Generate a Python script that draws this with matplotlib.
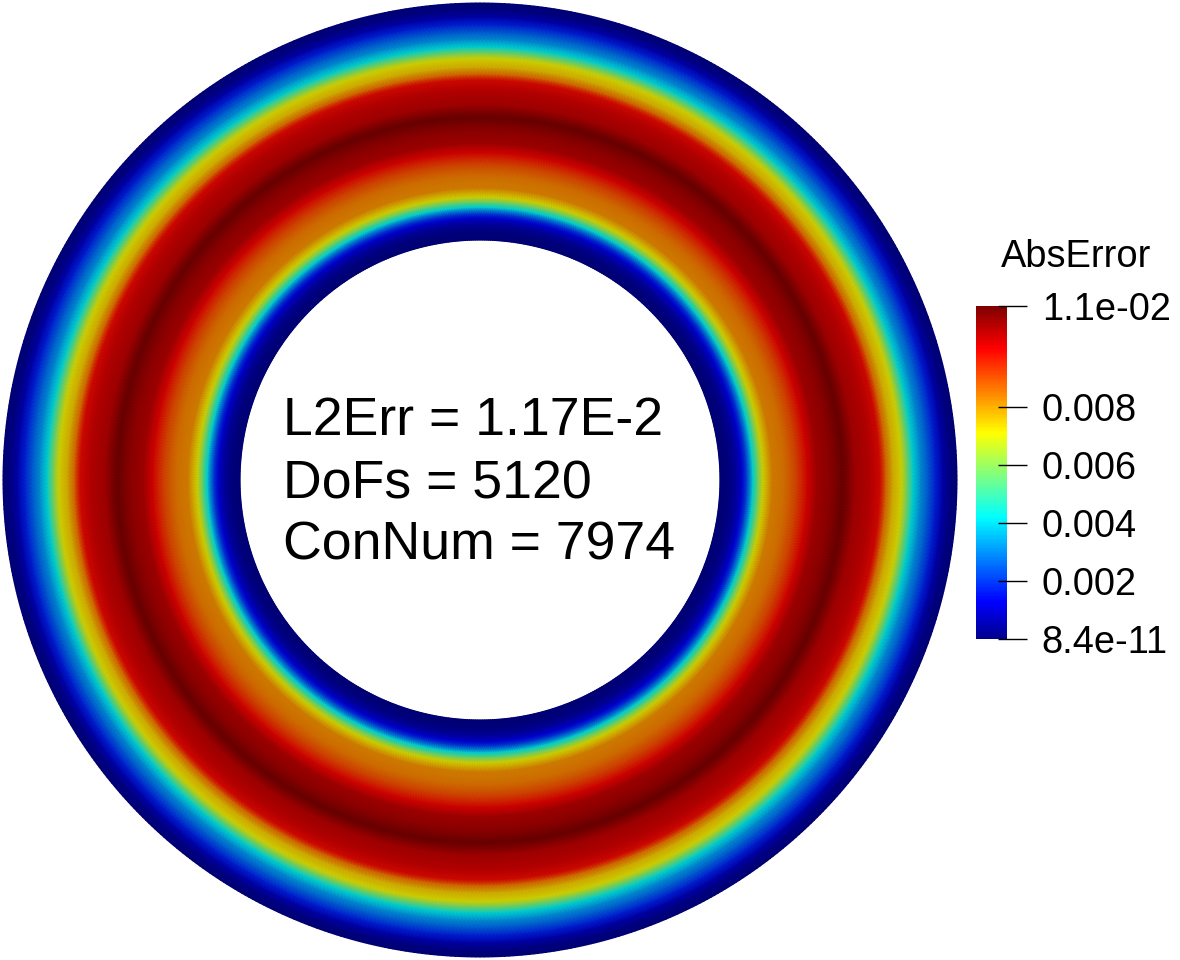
import numpy as np
import matplotlib
matplotlib.use('Agg')
import matplotlib.pyplot as plt
from matplotlib.colors import LinearSegmentedColormap, Normalize
from matplotlib.cm import ScalarMappable

# radial profile of the error field (radius scaled so the outer wall is 1)
radius = [0.503, 0.518, 0.535, 0.549, 0.560, 0.572, 0.583, 0.593, 0.612, 0.639,
          0.665, 0.686, 0.706, 0.734, 0.761, 0.786, 0.818, 0.839, 0.851, 0.866,
          0.883, 0.895, 0.908, 0.924, 0.940, 0.956, 0.971, 0.985, 1.000]
abs_error = [0.0, 0.0001, 0.0005, 0.0013, 0.0023, 0.0042, 0.0058, 0.0071, 0.0083, 0.0085,
             0.0092, 0.0100, 0.0107, 0.0110, 0.0115, 0.0107, 0.0104, 0.0099, 0.0086, 0.0076,
             0.0071, 0.0058, 0.0042, 0.0032, 0.0025, 0.0017, 0.0007, 0.0002, 0.0]

vmin = 8.4e-11
vmax = 0.0115
tick_values = [vmax, 0.008, 0.006, 0.004, 0.002, vmin]
tick_labels = ['1.1e-02', '0.008', '0.006', '0.004', '0.002', '8.4e-11']

info_lines = ['L2Err = 1.17E-2', 'DoFs = 5120', 'ConNum = 7974']

# paraview style jet
jet_pts = [(0.0, (0, 0, 0.5625)), (0.111, (0, 0, 1)), (0.365, (0, 1, 1)),
           (0.492, (0.5, 1, 0.5)), (0.619, (1, 1, 0)), (0.873, (1, 0, 0)),
           (1.0, (0.5, 0, 0))]
jet_pv = LinearSegmentedColormap.from_list('jet_pv', jet_pts)
# the lit surface looks a bit darker than the bar
shade = 0.8
jet_dark = LinearSegmentedColormap.from_list(
    'jet_dark', [(p, tuple(c * shade for c in col)) for p, col in jet_pts])

W, H = 1180, 960
fig = plt.figure(figsize=(W / 100, H / 100), dpi=100)

# main axes: 477 px per unit, centre at pixel (480, 480)
scale = 477.0
cx, cy = 480.0, 480.0
ax = fig.add_axes([0, 0, 1, 1])
ax.set_xlim(-cx / scale, (W - cx) / scale)
ax.set_ylim(-(H - cy) / scale, cy / scale)
ax.axis('off')

theta = np.linspace(0, 2 * np.pi, 721)
R, T = np.meshgrid(radius, theta)
C = np.tile(abs_error, (len(theta), 1))
ax.pcolormesh(R * np.cos(T), R * np.sin(T), C, shading='gouraud',
              cmap=jet_dark, vmin=vmin, vmax=vmax, antialiased=True)

font = 'Liberation Sans'
baselines = [435, 498, 560]
for txt, yb in zip(info_lines, baselines):
    fig.text(283 / W, 1 - yb / H, txt, fontsize=38.6, family=font,
             ha='left', va='baseline', color='black')

# colour bar
cax = fig.add_axes([976 / W, 1 - 639 / H, 31 / W, 333 / H])
norm = Normalize(vmin=vmin, vmax=vmax)
cb = fig.colorbar(ScalarMappable(norm=norm, cmap=jet_pv), cax=cax)
cb.outline.set_visible(False)
cb.set_ticks(tick_values)
cb.set_ticklabels(tick_labels)
cax.tick_params(length=0, pad=25, labelsize=27.4)
for lab in cax.get_yticklabels():
    lab.set_family(font)
cax.hlines(tick_values, 0.71, 1.65, transform=cax.get_yaxis_transform(),
           colors='black', linewidth=1.0, clip_on=False)

fig.text(1076 / W, 1 - 267 / H, 'AbsError', fontsize=27.4, family=font,
         ha='center', va='baseline', color='black')

fig.savefig('out.png', dpi=100)
